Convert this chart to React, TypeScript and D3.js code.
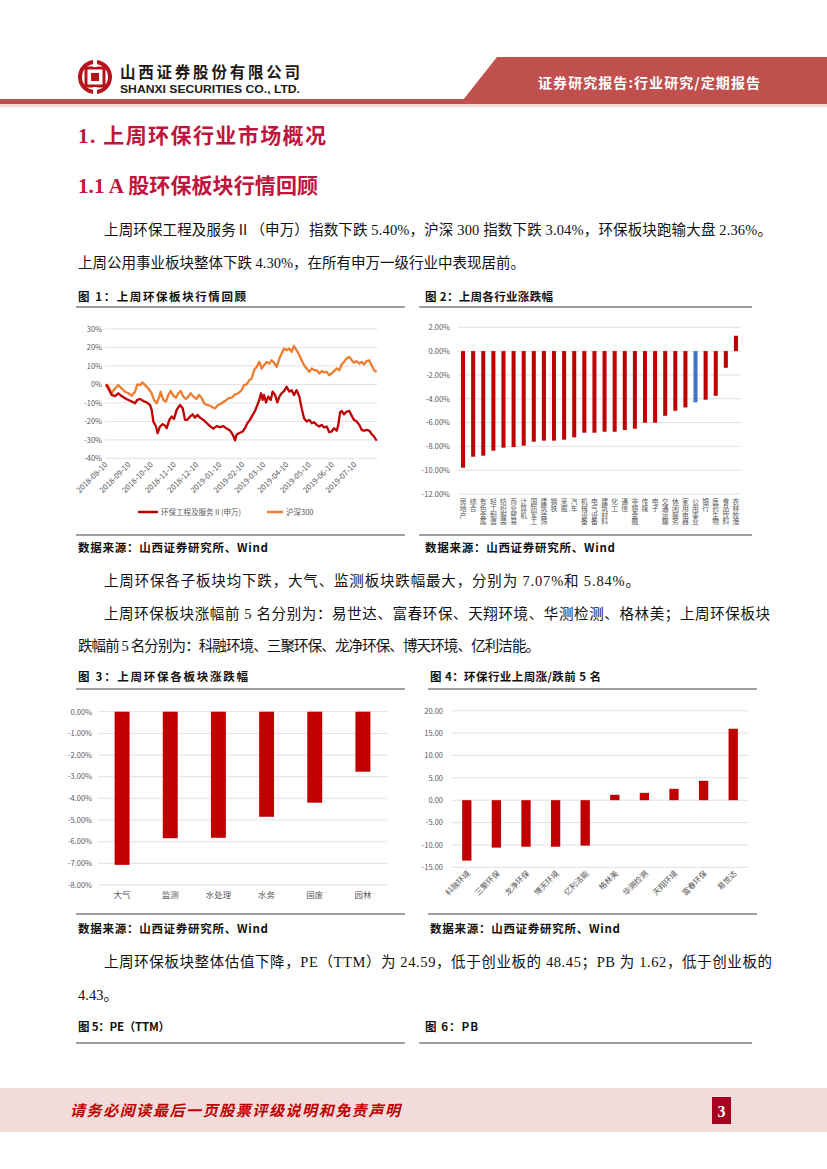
import React from 'react';
import * as d3 from 'd3';

// ---------- DATA ----------
// Figure 1: cumulative return (%) vs calendar day offset from 2018-08-10
const envPoints: [number, number][] = [
  [0, 0], [3.1, -2.2], [7.6, -5.7], [12.1, -6.3], [16.5, -4.8], [21, -6.3], [25.5, -7.5], [30, -8.4],
  [34.4, -9.3], [38.9, -10.2], [42, -8.4], [45.6, -7.9], [50.1, -9.0], [54.6, -9.7], [59, -11.1],
  [61.3, -13.8], [63.5, -20.1], [67.1, -22.8], [69.3, -26.4], [72.4, -22.8], [76, -21.5], [79.2, -22.3],
  [81.4, -23.7], [85, -19.2], [88.1, -17.4], [91.2, -18.7], [94.8, -13.8], [99.3, -11.1], [102.9, -12.9],
  [106, -19.2], [109.1, -19.2], [112.7, -17.4], [116.3, -16.2], [119.4, -18.0], [122.5, -16.5],
  [126.1, -18.0], [130.6, -19.2], [135.1, -20.9], [139.5, -22.6], [144, -23.9], [148.5, -22.6],
  [153, -23.2], [157.4, -22.6], [161.9, -23.9], [166.4, -25.0], [170, -27.1], [173.1, -30.3],
  [175.3, -27.1], [179.8, -26.2], [183.4, -25.5], [186.5, -23.7], [189.6, -21.0], [193.2, -19.2],
  [196.8, -16.5], [199.9, -14.4], [203.1, -11.1], [205.7, -8.4], [208, -4.8], [210.2, -8.4], [212, -5.7],
  [214.7, -9.7], [217.8, -6.6], [221, -8.4], [223.6, -3.9], [226.8, -5.7], [229.9, -9.7], [232.6, -6.6],
  [235.7, -4.8], [238.8, -3.6], [242.4, -1.3], [246, -3.9], [249.1, -3.1], [252.2, -5.7], [255.8, -3.1],
  [259.4, -6.6], [262.5, -12.9], [265.7, -18.3], [269.2, -20.1], [272.8, -19.2], [276, -21.0],
  [279.1, -20.5], [282.7, -21.9], [286.2, -22.8], [289.4, -21.9], [292.5, -23.3], [296.1, -22.8],
  [299.6, -25.9], [302.8, -25.5], [305.9, -23.7], [309.5, -25.1], [311.7, -21.9], [314, -15.1],
  [316.2, -14.4], [319.3, -16.2], [322.9, -14.7], [326.5, -14.4], [329.6, -16.9], [332.7, -19.2],
  [336.3, -20.1], [339.9, -21.9], [343, -24.6], [346.2, -25.1], [349.7, -24.6], [353.3, -25.1],
  [356.4, -26.9], [359.6, -28.2], [363.2, -30.5],
];
const hs300Points: [number, number][] = [
  [0, 0], [3.1, -0.9], [7.6, -4.8], [12.1, -2.2], [16.5, -0.4], [21, -2.2], [25.5, -4.0], [30, -4.8],
  [34.4, -6.1], [38.9, -4.0], [42, 0.0], [45.6, -0.4], [49.2, 1.1], [52.3, -0.4], [56.8, -2.2],
  [61.3, -4.8], [64.4, -8.4], [68, -10.2], [71.6, -6.6], [73.3, -4.0], [76.9, -8.4], [80.5, -9.3],
  [83.6, -5.7], [86.8, -3.6], [90.3, -6.1], [93.9, -7.2], [97, -4.8], [100.2, -3.6], [103.7, -6.6],
  [107.3, -7.9], [110.5, -6.6], [113.6, -4.8], [117.2, -6.6], [121.6, -7.9], [124.8, -5.7], [128.3, -7.2],
  [131.5, -10.2], [135.1, -11.1], [139.5, -11.5], [144, -12.6], [146.2, -13.0], [150.7, -11.1],
  [155.2, -10.2], [159.6, -9.0], [164.1, -7.5], [168.6, -7.2], [173.1, -5.4], [177.5, -4.8], [182, -3.1],
  [185.1, -0.4], [188.7, 0], [192.3, 2.3], [195.5, 3.2], [198.6, 7.7], [202.2, 9.5], [205.7, 12.2],
  [208.9, 8.6], [212, 10.4], [215.6, 12.2], [219.2, 11.3], [222.3, 13.1], [225.4, 11.8], [229, 9.5],
  [232.6, 14.0], [235.7, 16.7], [238.8, 19.4], [242.4, 18.5], [246, 19.4], [249.1, 17.6], [252.2, 20.8],
  [255.8, 18.5], [259.4, 15.8], [262.5, 13.1], [265.7, 10.4], [269.2, 8.6], [272.8, 6.8], [276, 8.6],
  [279.1, 7.7], [282.7, 7.7], [286.2, 5.9], [289.4, 7.2], [292.5, 6.5], [296.1, 6.8], [299.6, 5.0],
  [302.8, 5.9], [305.9, 7.2], [309.5, 8.6], [313.1, 7.7], [316.2, 10.8], [319.3, 12.2], [322.9, 14.0],
  [326.5, 14.9], [329.6, 13.1], [332.7, 11.8], [336.3, 12.6], [339.9, 11.3], [343, 12.2], [346.2, 10.8],
  [349.7, 12.6], [352.9, 13.1], [356.4, 10.4], [359.6, 7.7], [363.2, 6.8],
];
const fig1Start = '2018-08-10';
const fig1End = '2019-08-09';
const fig1DateTicks = ['2018-08-10', '2018-09-10', '2018-10-10', '2018-11-10', '2018-12-10', '2019-01-10',
  '2019-02-10', '2019-03-10', '2019-04-10', '2019-05-10', '2019-06-10', '2019-07-10'];
const fig1YTicks = [30, 20, 10, 0, -10, -20, -30, -40];
const fig1Legend = ['环保工程及服务Ⅱ(申万)', '沪深300'];

// Figure 2: SW level-1 industries weekly change (%)
const industries = ['房地产', '综合', '有色金属', '轻工制造', '纺织服装', '商业贸易', '计算机', '国防军工',
  '建筑装饰', '钢铁', '采掘', '汽车', '机械设备', '电气设备', '建筑材料', '化工', '通信', '非银金融', '传媒',
  '电子', '交通运输', '休闲服务', '家用电器', '公用事业', '银行', '医药生物', '食品饮料', '农林牧渔'];
const industryChange = [-9.79, -8.87, -8.78, -8.36, -8.11, -8.06, -7.94, -7.61, -7.52, -7.52, -7.44, -7.24,
  -6.85, -6.85, -6.77, -6.77, -6.63, -6.52, -6.01, -6.01, -5.43, -5.01, -4.73, -4.30, -4.08, -3.75, -1.40, 1.29];
const highlightIndustry = '公用事业';
const fig2YTicks = [2, 0, -2, -4, -6, -8, -10, -12];

// Figure 3: environmental sub-sectors weekly change (%)
const subSectors = ['大气', '监测', '水处理', '水务', '固废', '园林'];
const subSectorChange = [-7.07, -5.84, -5.82, -4.85, -4.2, -2.77];
const fig3YTicks = [0, -1, -2, -3, -4, -5, -6, -7, -8];

// Figure 4: top/bottom 5 stocks weekly change (%)
const stocks = ['科融环境', '三聚环保', '龙净环保', '博天环境', '亿利洁能', '格林美', '华测检测', '天翔环境', '富春环保', '易世达'];
const stockChange = [-13.5, -10.6, -10.4, -10.4, -10.15, 1.2, 1.64, 2.54, 4.33, 15.97];
const fig4YTicks = [20, 15, 10, 5, 0, -5, -10, -15];

// ---------- STYLE ----------
const DARKRED = '#C00000';
const ORANGE = '#ED7D31';
const BLUE = '#4472C4';
const GRID = '#D9D9D9';
const AXIS_TXT = '#595959';
const CRIMSON = '#C0143C';
const CJK = "'Noto Sans CJK SC', 'Noto Sans', sans-serif";
const BODY = "'Liberation Serif', 'Noto Sans CJK SC', serif";

const parse = d3.timeParse('%Y-%m-%d');
const DAY = 86400000;

function Fig1() {
  const t0 = parse(fig1Start)!;
  const x = d3.scaleTime().domain([t0, parse(fig1End)!]).range([106, 377.3]);
  const y = d3.scaleLinear().domain([-40, 30]).range([458.3, 329]);
  const line = d3.line<[number, number]>()
    .x(d => x(new Date(t0.getTime() + d[0] * DAY)))
    .y(d => y(d[1]));
  return (
    <g fontFamily={CJK}>
      {fig1YTicks.map(v => (
        <g key={v}>
          <line x1={105} x2={377.5} y1={y(v)} y2={y(v)} stroke={GRID} strokeWidth={0.8} />
          <text x={102} y={y(v) + 2.8} fontSize={7.5} textAnchor="end" fill={AXIS_TXT}>{v}%</text>
        </g>
      ))}
      {fig1DateTicks.map(s => {
        const px = x(parse(s)!);
        return (
          <text key={s} transform={`translate(${px + 2},${y(-40) + 7}) rotate(-45)`} fontSize={7.8}
            textAnchor="end" fill={AXIS_TXT}>{s}</text>
        );
      })}
      <path d={line(hs300Points)!} fill="none" stroke={ORANGE} strokeWidth={2.3} strokeLinejoin="round" />
      <path d={line(envPoints)!} fill="none" stroke={DARKRED} strokeWidth={2.3} strokeLinejoin="round" />
      <line x1={138} x2={158} y1={512} y2={512} stroke={DARKRED} strokeWidth={2.5} />
      <text x={161} y={515} fontSize={7.5} fill={AXIS_TXT}>{fig1Legend[0]}</text>
      <line x1={267} x2={283} y1={512} y2={512} stroke={ORANGE} strokeWidth={2.5} />
      <text x={286} y={515} fontSize={7.5} fill={AXIS_TXT}>{fig1Legend[1]}</text>
    </g>
  );
}

function Fig2() {
  const y = d3.scaleLinear().domain([-12, 2]).range([494, 327.3]);
  const x = d3.scaleBand<string>().domain(industries).range([458, 741]).paddingInner(0.6).paddingOuter(0.3);
  return (
    <g fontFamily={CJK}>
      {fig2YTicks.map(v => (
        <g key={v}>
          <line x1={458} x2={741} y1={y(v)} y2={y(v)} stroke={GRID} strokeWidth={0.8} />
          <text x={450} y={y(v) + 2.8} fontSize={7.5} textAnchor="end" fill={AXIS_TXT}>{v.toFixed(2)}%</text>
        </g>
      ))}
      {industries.map((name, i) => {
        const v = industryChange[i];
        return (
          <rect key={name} x={x(name)} width={x.bandwidth()} y={y(Math.max(0, v))}
            height={Math.abs(y(v) - y(0))} fill={name === highlightIndustry ? BLUE : DARKRED} />
        );
      })}
      {industries.map(name => {
        const cx = x(name)! + x.bandwidth() / 2;
        return (
          <text key={name} x={cx} y={498} fontSize={6.8} fill={AXIS_TXT}
            style={{ writingMode: 'vertical-rl' as any }}>{name}</text>
        );
      })}
    </g>
  );
}

function Fig3() {
  const y = d3.scaleLinear().domain([-8, 0]).range([885, 711.7]);
  const x = d3.scaleBand<string>().domain(subSectors).range([98, 387]).paddingInner(0.69).paddingOuter(0.345);
  return (
    <g fontFamily={CJK}>
      {fig3YTicks.map(v => (
        <g key={v}>
          <line x1={98} x2={387} y1={y(v)} y2={y(v)} stroke={GRID} strokeWidth={0.8} />
          <text x={92} y={y(v) + 2.8} fontSize={7.5} textAnchor="end" fill={AXIS_TXT}>{v.toFixed(2)}%</text>
        </g>
      ))}
      {subSectors.map((s, i) => (
        <rect key={s} x={x(s)} width={x.bandwidth()} y={y(0)} height={y(subSectorChange[i]) - y(0)} fill={DARKRED} />
      ))}
      {subSectors.map(s => (
        <text key={s} x={x(s)! + x.bandwidth() / 2} y={898} fontSize={8.5} textAnchor="middle" fill={AXIS_TXT}>{s}</text>
      ))}
    </g>
  );
}

function Fig4() {
  const y = d3.scaleLinear().domain([-15, 20]).range([867.3, 710.7]);
  const x = d3.scaleBand<string>().domain(stocks).range([452, 748]).paddingInner(0.686).paddingOuter(0.343);
  return (
    <g fontFamily={CJK}>
      {fig4YTicks.map(v => (
        <g key={v}>
          <line x1={452} x2={748} y1={y(v)} y2={y(v)} stroke={GRID} strokeWidth={0.8} />
          <text x={443} y={y(v) + 2.8} fontSize={7.5} textAnchor="end" fill={AXIS_TXT}>{v.toFixed(2)}</text>
        </g>
      ))}
      {stocks.map((s, i) => {
        const v = stockChange[i];
        return <rect key={s} x={x(s)} width={x.bandwidth()} y={y(Math.max(0, v))} height={Math.abs(y(v) - y(0))} fill={DARKRED} />;
      })}
      {stocks.map(s => {
        const cx = x(s)! + x.bandwidth() / 2;
        return (
          <text key={s} transform={`translate(${cx + 4},${874}) rotate(-45)`} fontSize={7.8}
            textAnchor="end" fill={AXIS_TXT}>{s}</text>
        );
      })}
    </g>
  );
}

function BodyLine({ x, y, w, children }: { x: number; y: number; w?: number; children: React.ReactNode }) {
  return (
    <text x={x} y={y} fontFamily={BODY} fontSize={14.5} fill="#111" textLength={w} lengthAdjust={w ? 'spacing' : undefined}>
      {children}
    </text>
  );
}

function Caption({ x, y, w, children }: { x: number; y: number; w: number; children: React.ReactNode }) {
  return (
    <text x={x} y={y} fontFamily={CJK} fontWeight={700} fontSize={11.5} fill="#111" textLength={w} lengthAdjust="spacing">
      {children}
    </text>
  );
}

function Rule({ x1, x2, y }: { x1: number; x2: number; y: number }) {
  return <line x1={x1} x2={x2} y1={y} y2={y} stroke="#404040" strokeWidth={1.2} />;
}

function Logo() {
  return (
    <g>
      <circle cx={95} cy={77} r={15} fill="none" stroke="#B5121B" strokeWidth={4} />
      <rect x={86} y={68} width={18} height={18} fill="none" stroke="#B5121B" strokeWidth={3} />
      <rect x={91} y={73} width={8} height={8} fill="#B5121B" />
      <rect x={93} y={59} width={4} height={8} fill="#fff" />
      <rect x={93} y={87} width={4} height={8} fill="#fff" />
    </g>
  );
}

export default function App() {
  return (
    <svg width={827} height={1169} viewBox="0 0 827 1169" style={{ position: 'absolute', left: 0, top: 0, background: '#fff' }}>
      <rect width={827} height={1169} fill="#fff" />
      {/* header */}
      <Logo />
      <text x={120} y={78} fontFamily={CJK} fontWeight={700} fontSize={15.5} fill="#231815" textLength={180} lengthAdjust="spacing">山西证券股份有限公司</text>
      <text x={120} y={93} fontFamily="'Liberation Sans', Arial, sans-serif" fontWeight={700} fontSize={11} fill="#231815" textLength={180} lengthAdjust="spacingAndGlyphs">SHANXI SECURITIES CO., LTD.</text>
      <polygon points="497,57 827,57 827,100 463,100" fill="#C0504D" />
      <rect x={0} y={99} width={827} height={5} fill="#C0504D" />
      <rect x={0} y={104} width={827} height={3} fill="#F2DCDB" />
      <text x={538} y={88} fontFamily={CJK} fontWeight={700} fontSize={14} fill="#fff" textLength={222} lengthAdjust="spacing">证券研究报告:行业研究/定期报告</text>

      {/* headings */}
      <text x={78} y={143} fontFamily={BODY} fontWeight={700} fontSize={21} fill={CRIMSON} textLength={248} lengthAdjust="spacing">1.  上周环保行业市场概况</text>
      <text x={78} y={193} fontFamily={BODY} fontWeight={700} fontSize={21} fill={CRIMSON} textLength={240} lengthAdjust="spacing">1.1 A 股环保板块行情回顾</text>

      <BodyLine x={104} y={235} w={668}>上周环保工程及服务Ⅱ（申万）指数下跌 5.40%，沪深 300 指数下跌 3.04%，环保板块跑输大盘 2.36%。</BodyLine>
      <BodyLine x={78} y={268} w={447}>上周公用事业板块整体下跌 4.30%，在所有申万一级行业中表现居前。</BodyLine>

      <Caption x={78} y={301} w={168}>图 1：上周环保板块行情回顾</Caption>
      <Caption x={425} y={301} w={128}>图 2：上周各行业涨跌幅</Caption>
      <Rule x1={76} x2={405} y={307} />
      <Rule x1={419} x2={752} y={307} />
      <Fig1 />
      <Fig2 />
      <Rule x1={76} x2={405} y={535} />
      <Rule x1={419} x2={752} y={535} />
      <Caption x={78} y={552} w={190}>数据来源：山西证券研究所、Wind</Caption>
      <Caption x={425} y={552} w={190}>数据来源：山西证券研究所、Wind</Caption>

      <BodyLine x={104} y={586} w={536}>上周环保各子板块均下跌，大气、监测板块跌幅最大，分别为 7.07%和 5.84%。</BodyLine>
      <BodyLine x={104} y={619} w={666}>上周环保板块涨幅前 5 名分别为：易世达、富春环保、天翔环境、华测检测、格林美；上周环保板块</BodyLine>
      <BodyLine x={78} y={651} w={462}>跌幅前 5 名分别为：科融环境、三聚环保、龙净环保、博天环境、亿利洁能。</BodyLine>

      <Caption x={78} y={681} w={170}>图 3：上周环保各板块涨跌幅</Caption>
      <Caption x={430} y={681} w={171}>图 4：环保行业上周涨/跌前 5 名</Caption>
      <Rule x1={76} x2={405} y={689} />
      <Rule x1={428} x2={757} y={689} />
      <Fig3 />
      <Fig4 />
      <Rule x1={76} x2={405} y={914} />
      <Rule x1={428} x2={757} y={914} />
      <Caption x={78} y={933} w={190}>数据来源：山西证券研究所、Wind</Caption>
      <Caption x={430} y={933} w={190}>数据来源：山西证券研究所、Wind</Caption>

      <BodyLine x={104} y={967} w={668}>上周环保板块整体估值下降，PE（TTM）为 24.59，低于创业板的 48.45；PB 为 1.62，低于创业板的</BodyLine>
      <BodyLine x={78} y={1000}>4.43。</BodyLine>

      <Caption x={78} y={1031} w={92}>图 5：PE（TTM）</Caption>
      <Caption x={425} y={1031} w={53}>图 6：PB</Caption>
      <Rule x1={76} x2={405} y={1043} />
      <Rule x1={419} x2={752} y={1043} />

      {/* footer */}
      <rect x={0} y={1088} width={827} height={44} fill="#F2DCDB" />
      <text x={70} y={1116} fontFamily={CJK} fontWeight={700} fontStyle="italic" fontSize={15} fill="#C00000" textLength={330} lengthAdjust="spacing">请务必阅读最后一页股票评级说明和免责声明</text>
      <rect x={712} y={1097} width={19} height={27} fill="#A50021" />
      <text x={721.5} y={1117} fontFamily="'Liberation Serif', serif" fontWeight={700} fontSize={16} fill="#fff" textAnchor="middle">3</text>
    </svg>
  );
}
